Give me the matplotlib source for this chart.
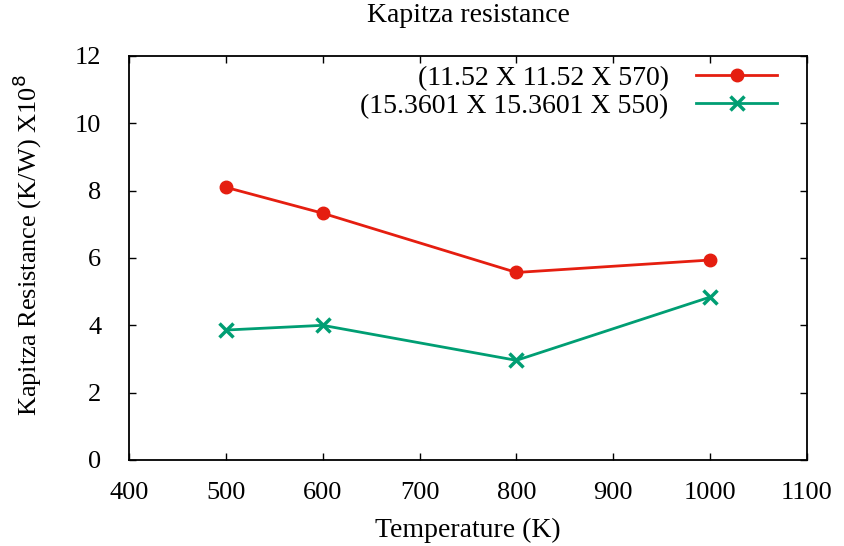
import matplotlib
matplotlib.use("Agg")
import matplotlib.pyplot as plt

temps = [500, 600, 800, 1000]
res_small = [8.10, 7.33, 5.57, 5.94]
res_large = [3.86, 4.00, 2.96, 4.84]
label_small = "(11.52 X 11.52 X 570)"
label_large = "(15.3601 X 15.3601 X 550)"
xticks = [400, 500, 600, 700, 800, 900, 1000, 1100]
yticks = [0, 2, 4, 6, 8, 10, 12]

plt.rcParams['font.family'] = ['Liberation Serif', 'DejaVu Serif']

fig = plt.figure(figsize=(8.44, 5.46), dpi=100)
ax = fig.add_axes([129/844, 86/546, (807-129)/844, (460-56)/546])

ax.plot(temps, res_small, color='#e51e10', lw=2, marker='o', ms=9, label=label_small)
ax.plot(temps, res_large, color='#009e73', lw=2, marker='x', ms=10, mew=2.5, label=label_large)

ax.set_xlim(400, 1100)
ax.set_ylim(0, 12)
ax.set_xticks(xticks)
ax.set_yticks(yticks)
ax.tick_params(direction='in', top=True, right=True, labelsize=19, length=5, width=1)
ax.tick_params(axis='x', pad=16)
ax.tick_params(axis='y', pad=20)
for s in ax.spines.values():
    s.set_linewidth(1.3)

ax.set_xlabel("Temperature (K)", fontsize=20, labelpad=10)
ax.set_ylabel("Kapitza Resistance (K/W) X10$^{8}$", fontsize=19)
ax.yaxis.set_label_coords(-0.125, (460-245)/404)
fig.text(468/844, 1 - 15/546, "Kapitza resistance", ha='center', va='center', fontsize=20)

leg = ax.legend(loc='upper right', frameon=False, markerfirst=False, fontsize=20,
                handlelength=2.9, borderaxespad=0.0, borderpad=0.0, labelspacing=0.08,
                handletextpad=1.0, bbox_to_anchor=((777-129)/678, 0.976))
for t in leg.get_texts():
    t.set_ha('right')

fig.savefig("out.png", dpi=100)
